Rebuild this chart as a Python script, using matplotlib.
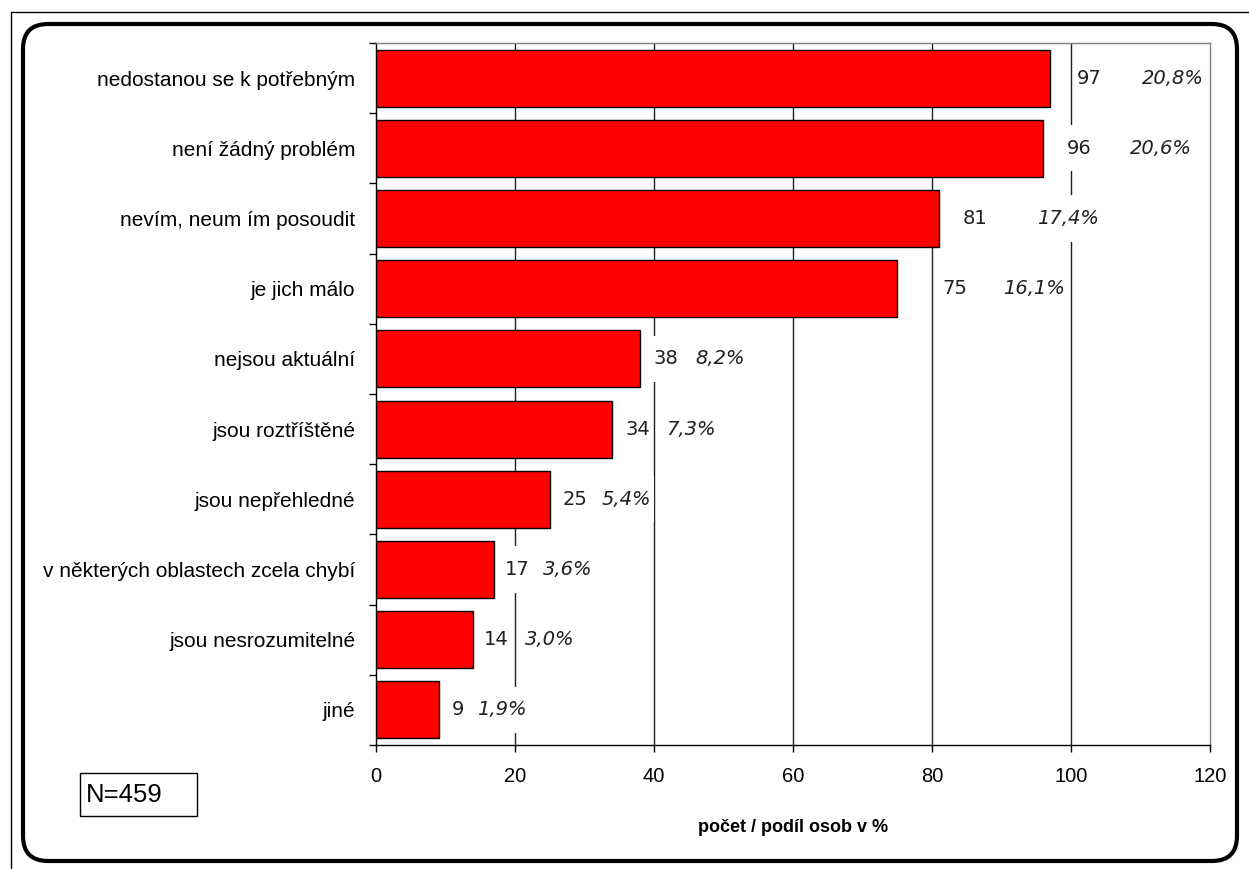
import numpy as np
import matplotlib
matplotlib.use("Agg")
import matplotlib.pyplot as plt
from matplotlib.patches import FancyBboxPatch, Rectangle
from matplotlib.lines import Line2D
from matplotlib.transforms import IdentityTransform
from matplotlib.path import Path

# survey answers, top to bottom
categories = [
    "nedostanou se k potřebným",
    "není žádný problém",
    "nevím, neum ím posoudit",
    "je jich málo",
    "nejsou aktuální",
    "jsou roztříštěné",
    "jsou nepřehledné",
    "v některých oblastech zcela chybí",
    "jsou nesrozumitelné",
    "jiné",
]
counts = [97, 96, 81, 75, 38, 34, 25, 17, 14, 9]
shares = ["20,8%", "20,6%", "17,4%", "16,1%", "8,2%", "7,3%", "5,4%", "3,6%", "3,0%", "1,9%"]
xticks = [0, 20, 40, 60, 80, 100, 120]
n_text = "N=459"
xlabel = "počet / podíl osob v %"

# label offsets from the bar end (pixels)
num_pad = [27, 24, 24, 45, 13, 13, 13, 11, 11, 13]
pct_pad = [92, 87, 98, 106, 55, 54, 52, 49, 52, 38]

sans = ["Liberation Sans", "DejaVu Sans"]
W, H = 1249, 869


def tall_box(x0, y0, width, height, mutation_size):
    # white patch behind data labels, extra room above and below
    px = 0.15 * mutation_size
    py = 0.7 * mutation_size
    x1, y1 = x0 + width + px, y0 + height + py
    x0, y0 = x0 - px, y0 - py
    return Path([(x0, y0), (x1, y0), (x1, y1), (x0, y1), (x0, y0)],
                [Path.MOVETO, Path.LINETO, Path.LINETO, Path.LINETO, Path.CLOSEPOLY])


fig = plt.figure(figsize=(W / 100, H / 100), dpi=100)
ax = fig.add_axes([376 / W, 1 - 745 / H, (1210 - 376) / W, (745 - 43) / H])

y = np.arange(len(categories))
ax.barh(y, counts, height=0.81, color="#FF0000", edgecolor="black", linewidth=1, zorder=3)
ax.set_xlim(0, 120)
ax.set_ylim(len(categories) - 0.5, -0.5)

for v in xticks[1:-1]:
    ax.axvline(v, color="#202020", linewidth=1, zorder=1)

ax.set_xticks(xticks)
ax.set_xticklabels([str(t) for t in xticks], family=sans, fontsize=14.5)
ax.tick_params(axis="x", length=5, width=1, pad=11, direction="out")
ax.set_yticks(y)
ax.set_yticklabels(categories, family=sans, fontsize=15)
ax.tick_params(axis="y", which="major", length=0, pad=15)
ax.set_yticks(np.arange(-0.5, len(categories)), minor=True)
ax.tick_params(axis="y", which="minor", length=5, width=1, direction="out")

for s in ["top", "right"]:
    ax.spines[s].set_color("#808080")
for s in ["left", "bottom"]:
    ax.spines[s].set_color("black")
for s in ax.spines.values():
    s.set_linewidth(1)

for i, (c, p) in enumerate(zip(counts, shares)):
    ax.annotate(str(c), xy=(c, i), xytext=(num_pad[i] * 0.72, 0), textcoords="offset points",
                ha="left", va="center", fontsize=14, family="DejaVu Sans", color="#202020",
                bbox=dict(boxstyle=tall_box, facecolor="white", edgecolor="none"), zorder=2)
    ax.annotate(p, xy=(c, i), xytext=(pct_pad[i] * 0.72, 0), textcoords="offset points",
                ha="left", va="center", fontsize=14, family="DejaVu Sans", style="italic",
                color="#202020",
                bbox=dict(boxstyle=tall_box, facecolor="white", edgecolor="none"), zorder=2)

fig.text(793 / W, 1 - 828 / H, xlabel, ha="center", va="center", family=sans,
         fontsize=13, fontweight="bold")

# N box
fig.add_artist(Rectangle((80, H - 816), 117, 43, transform=IdentityTransform(),
                         facecolor="none", edgecolor="black", linewidth=1))
fig.text(86 / W, 1 - 795 / H, n_text, ha="left", va="center", family=sans, fontsize=18.5)

# frames around the chart
fig.add_artist(FancyBboxPatch((23, H - 861), 1214, 837, boxstyle="round,pad=0,rounding_size=25",
                              transform=IdentityTransform(), facecolor="none",
                              edgecolor="black", linewidth=3))
fig.add_artist(Line2D([11, 11, W], [0, H - 12, H - 12], transform=IdentityTransform(),
                      color="black", linewidth=1))

fig.savefig("out.png", dpi=100)
